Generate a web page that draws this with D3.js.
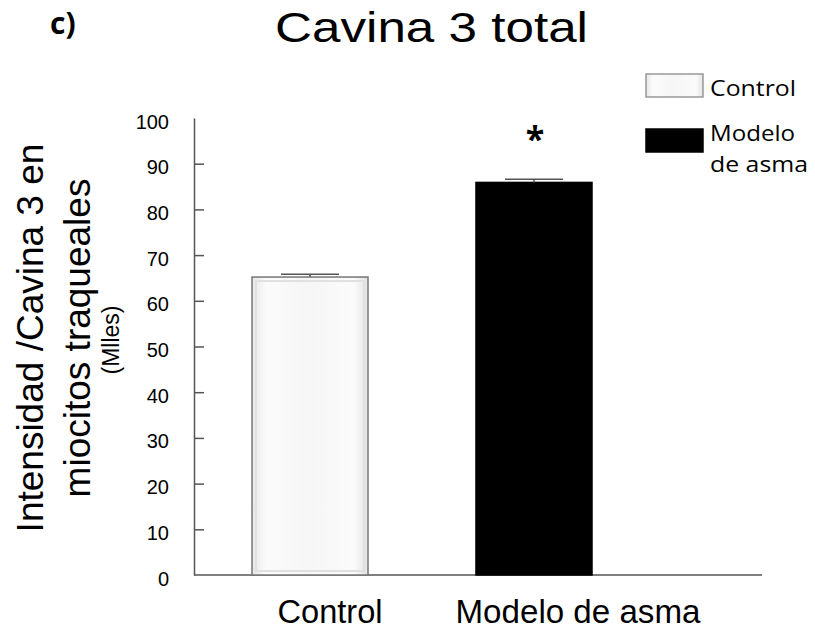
<!DOCTYPE html>
<html>
<head>
<meta charset="utf-8">
<script src="https://cdn.jsdelivr.net/npm/d3@7"></script>
<style>
  body { margin: 0; background: #fff; }
  text { font-family: "Liberation Sans", Arial, sans-serif; fill: #000; }
  .cal { font-family: "Open Sans", sans-serif; }
</style>
</head>
<body>
<svg width="815" height="629"></svg>
<script>
const groups = ['Control', 'Modelo de asma']
const means = [65.2, 85.9]
const errs = [0.6, 0.7]
const yTicks = [0, 10, 20, 30, 40, 50, 60, 70, 80, 90, 100]
const legendLabels = [['Control'], ['Modelo', 'de asma']]
const colors = ['#fff', '#000']

const svg = d3.select('svg')

const defs = svg.append('defs')
const grad = defs.append('linearGradient').attr('id', 'ctrlFill')
grad.append('stop').attr('offset', '0%').attr('stop-color', '#e6e6e6')
grad.append('stop').attr('offset', '12%').attr('stop-color', '#fbfbfb')
grad.append('stop').attr('offset', '50%').attr('stop-color', '#f6f6f6')
grad.append('stop').attr('offset', '88%').attr('stop-color', '#fbfbfb')
grad.append('stop').attr('offset', '100%').attr('stop-color', '#e2e2e2')

const axisX = 194
const yScale = d3.scaleLinear().domain([0, 100]).range([575, 118])
const xScale = d3.scaleBand().domain(groups).range([252, 592]).paddingInner(0.482).paddingOuter(0)
const bw = xScale.bandwidth()

// y axis, ticks pointing inwards
const yAxis = d3.axisLeft(yScale)
  .tickValues(yTicks)
  .tickSizeInner(-10)
  .tickSizeOuter(0)
  .tickPadding(25)
const yG = svg.append('g').attr('transform', `translate(${axisX},0)`).call(yAxis)
yG.select('.domain').attr('stroke', '#555').attr('stroke-width', 1.5)
yG.selectAll('.tick line').attr('stroke', '#555').attr('stroke-width', 1.5)
  .filter(d => d === 0 || d === 100).remove()
yG.selectAll('.tick text').attr('font-size', 20).attr('font-family', '"Liberation Sans", Arial, sans-serif')
  .attr('dy', '0.5em').attr('fill', '#000')

// x axis line
svg.append('line')
  .attr('x1', axisX).attr('x2', 762)
  .attr('y1', yScale(0)).attr('y2', yScale(0))
  .attr('stroke', '#555').attr('stroke-width', 1.5)

// bars
const bars = svg.append('g')
bars.selectAll('rect.bar').data(groups).enter().append('rect')
  .attr('class', 'bar')
  .attr('x', d => xScale(d))
  .attr('y', (d, i) => yScale(means[i]))
  .attr('width', bw)
  .attr('height', (d, i) => yScale(0) - yScale(means[i]))
  .attr('fill', (d, i) => i === 0 ? 'url(#ctrlFill)' : colors[i])
  .attr('stroke', (d, i) => i === 0 ? '#777' : '#000')
  .attr('stroke-width', 1.5)

// faint inner border on the control bar
bars.append('rect')
  .attr('x', xScale(groups[0]) + 4)
  .attr('y', yScale(means[0]) + 4)
  .attr('width', bw - 8)
  .attr('height', yScale(0) - yScale(means[0]) - 8)
  .attr('fill', 'none').attr('stroke', '#e0e0e0').attr('stroke-width', 2)

// error bars
const eb = svg.append('g').attr('stroke', '#555').attr('stroke-width', 1.5)
groups.forEach((g, i) => {
  const cx = xScale(g) + bw / 2
  eb.append('line').attr('x1', cx).attr('x2', cx)
    .attr('y1', yScale(means[i])).attr('y2', yScale(means[i] + errs[i]))
  eb.append('line').attr('x1', cx - bw / 4).attr('x2', cx + bw / 4)
    .attr('y1', yScale(means[i] + errs[i])).attr('y2', yScale(means[i] + errs[i]))
})

// significance mark
svg.append('text')
  .attr('class', 'cal')
  .attr('x', xScale(groups[1]) + bw / 2 + 1)
  .attr('y', yScale(means[1] + errs[1]) - 28)
  .attr('text-anchor', 'middle')
  .attr('font-size', 34).attr('font-weight', 'bold')
  .text('*')

// x labels
const xLabW = [105, 245]
const xLabOff = [20, 44]
svg.selectAll('text.xlab').data(groups).enter().append('text')
  .attr('class', 'xlab')
  .attr('x', (d, i) => xScale(d) + bw / 2 + xLabOff[i])
  .attr('y', 623)
  .attr('text-anchor', 'middle')
  .attr('font-size', 33)
  .attr('textLength', (d, i) => xLabW[i])
  .attr('lengthAdjust', 'spacingAndGlyphs')
  .text(d => d)

// title
svg.append('text')
  .attr('x', 275).attr('y', 42)
  .attr('font-size', 42)
  .attr('textLength', 313).attr('lengthAdjust', 'spacingAndGlyphs')
  .text('Cavina 3 total')

svg.append('text')
  .attr('class', 'cal')
  .attr('x', 50).attr('y', 34)
  .attr('font-size', 30).attr('font-weight', 'bold')
  .text('c)')

// y label
const yl = svg.append('g').attr('transform', 'translate(0,338) rotate(-90)')
yl.append('text').attr('x', 0).attr('y', 43).attr('text-anchor', 'middle')
  .attr('font-size', 37).text('Intensidad /Cavina 3 en')
yl.append('text').attr('x', 0).attr('y', 90).attr('text-anchor', 'middle')
  .attr('font-size', 37).text('miocitos traqueales')
yl.append('text').attr('x', -2).attr('y', 119).attr('text-anchor', 'middle')
  .attr('font-size', 23).text('(Mlles)')

// legend
const lg = svg.append('g')
const legY = [74, 129]
const legW = [[86], [85, 98]]
legendLabels.forEach((lines, i) => {
  lg.append('rect')
    .attr('x', 646).attr('y', legY[i]).attr('width', 57).attr('height', 23)
    .attr('fill', i === 0 ? 'url(#ctrlFill)' : colors[i])
    .attr('stroke', i === 0 ? '#999' : '#000').attr('stroke-width', 1.5)
  lines.forEach((s, j) => {
    lg.append('text').attr('class', 'cal')
      .attr('x', 710).attr('y', legY[i] + 22 - (i === 1 ? 10 : 0) + j * 31)
      .attr('font-size', 22.5)
      .attr('textLength', legW[i][j]).attr('lengthAdjust', 'spacingAndGlyphs')
      .text(s)
  })
})
</script>
</body>
</html>
